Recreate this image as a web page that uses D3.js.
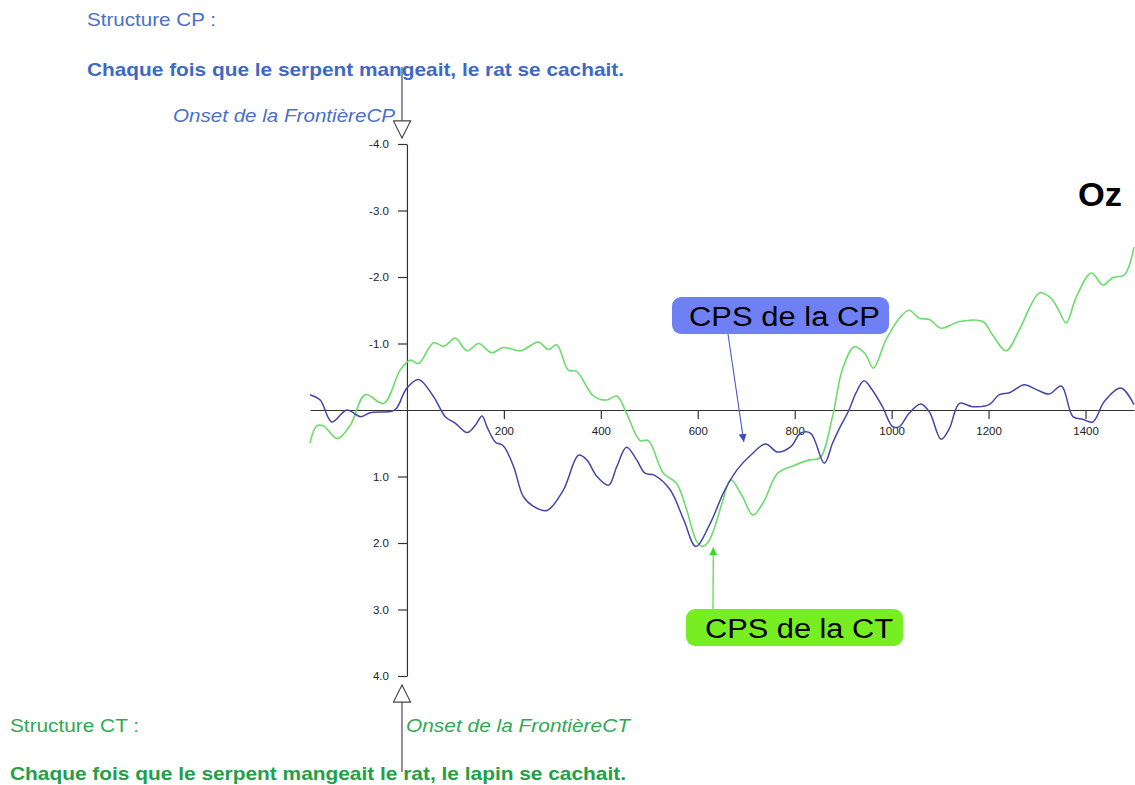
<!DOCTYPE html>
<html>
<head>
<meta charset="utf-8">
<script src="https://cdn.jsdelivr.net/npm/d3@7"></script>
<style>
  html, body { margin: 0; padding: 0; background: #fff; }
  svg { display: block; font-family: "Liberation Sans", Arial, sans-serif; }
</style>
</head>
<body>
<svg id="chart" width="1135" height="785"></svg>
<script>
// ---- data (time in ms, amplitude in µV; negative plotted upward) ----
const ctTime = [-200,-186,-172,-144,-117,-86,-48,-14,7,24,55,76,100,124,148,175,199,234,271,292,309,333,350,385,412,433,453,481,498,529,556,577,598,610,622,633,651,668,692,714,736,765,800,830,852,878,898,923,945,962,988,1016,1036,1057,1078,1102,1140,1188,1208,1236,1263,1291,1305,1329,1346,1360,1381,1412,1436,1456,1480,1500];
const ctValues = [0.50,0.24,0.24,0.43,0.23,-0.23,-0.10,-0.60,-0.75,-0.70,-1.01,-0.96,-1.08,-0.89,-1.00,-0.86,-0.94,-0.89,-1.02,-0.91,-0.98,-0.60,-0.58,-0.21,-0.15,-0.21,0.05,0.46,0.46,0.95,1.10,1.50,1.98,2.05,1.98,1.80,1.38,1.05,1.30,1.58,1.38,0.95,0.83,0.75,0.72,0.10,-0.60,-0.95,-0.85,-0.63,-1.05,-1.38,-1.50,-1.38,-1.36,-1.23,-1.33,-1.33,-1.13,-0.89,-1.20,-1.63,-1.76,-1.68,-1.48,-1.31,-1.70,-2.06,-1.88,-1.99,-2.03,-2.45];

const cpTime = [-200,-179,-155,-124,-96,-76,-31,-21,0,24,55,79,100,124,141,155,165,182,199,220,240,261,289,323,354,371,392,416,433,453,474,491,510,543,571,596,626,654,681,709,740,764,792,812,833,861,878,892,912,926,943,960,981,1002,1016,1036,1060,1078,1102,1119,1140,1167,1201,1222,1243,1274,1298,1325,1350,1374,1394,1415,1439,1473,1500];
const cpValues = [-0.23,-0.15,0.18,0.00,0.10,0.04,0.02,-0.03,-0.33,-0.46,-0.20,0.10,0.20,0.34,0.23,0.09,0.25,0.48,0.54,0.85,1.30,1.45,1.51,1.20,0.68,0.75,1.00,1.13,0.85,0.56,0.75,0.95,0.98,1.20,1.65,2.05,1.70,1.23,0.90,0.68,0.51,0.63,0.55,0.35,0.35,0.80,0.50,0.28,0.00,-0.25,-0.44,-0.30,-0.05,0.25,0.25,0.05,-0.09,0.03,0.44,0.28,-0.10,-0.05,-0.08,-0.23,-0.26,-0.38,-0.31,-0.24,-0.36,0.10,0.14,0.18,-0.13,-0.33,-0.08];

const xTicks = [200, 400, 600, 800, 1000, 1200, 1400];
const yTicks = [-4, -3, -2, -1, 1, 2, 3, 4];

const electrode = "Oz";
const cpTitle = "Structure CP :";
const cpSentence = "Chaque fois que le serpent mangeait, le rat se cachait.";
const cpOnset = "Onset de la FrontièreCP";
const ctTitle = "Structure CT :";
const ctSentence = "Chaque fois que le serpent mangeait le rat, le lapin se cachait.";
const ctOnset = "Onset de la FrontièreCT";
const cpLabel = "CPS de la CP";
const ctLabel = "CPS de la CT";
// annotation anchors (time, value)
const cpArrowTarget = [695, 0.48];
const ctArrowTarget = [632, 2.05];

// ---- drawing ----
const svg = d3.select("#chart");
const x = d3.scaleLinear().domain([-200, 1500]).range([310, 1134]);
const y = d3.scaleLinear().domain([-4, 4]).range([144, 676]);

const blueText = "#4a70c8";
const blueBold = "#3d69c6";
const greenText = "#2faa52";
const greenBold = "#21a046";

function styleAxis(g) {
  g.select(".domain").attr("stroke", "#333").attr("stroke-width", 1.2);
  g.selectAll(".tick line").attr("stroke", "#333").attr("stroke-width", 1.2);
  g.selectAll(".tick text").attr("fill", "#222").style("font-size", "11.5px")
    .style("font-family", "Liberation Sans, Arial, sans-serif");
}

// y axis
svg.append("g")
  .attr("transform", `translate(${x(0)},0)`)
  .call(d3.axisLeft(y).tickValues(yTicks).tickFormat(d => d.toFixed(1)).tickSize(9).tickSizeOuter(0).tickPadding(9))
  .call(styleAxis);

// x axis at zero
svg.append("g")
  .attr("transform", `translate(0,${y(0)})`)
  .call(d3.axisBottom(x).tickValues(xTicks).tickFormat(d => String(d)).tickSize(9).tickSizeOuter(0).tickPadding(8))
  .call(styleAxis);

// curves
const line = d3.line().x(d => x(d[0])).y(d => y(d[1])).curve(d3.curveCatmullRom.alpha(0.5));
svg.append("path")
  .datum(ctTime.map((t, i) => [t, ctValues[i]]))
  .attr("d", line).attr("fill", "none").attr("stroke", "#6cdc6c").attr("stroke-width", 1.6);
svg.append("path")
  .datum(cpTime.map((t, i) => [t, cpValues[i]]))
  .attr("d", line).attr("fill", "none").attr("stroke", "#4646a8").attr("stroke-width", 1.5);

// defs: arrowheads
const defs = svg.append("defs");
defs.append("marker").attr("id", "hollow").attr("viewBox", "0 0 20 20")
  .attr("refX", 19).attr("refY", 10).attr("markerWidth", 19).attr("markerHeight", 19)
  .attr("markerUnits", "userSpaceOnUse").attr("orient", "auto")
  .append("path").attr("d", "M1,1 L19,10 L1,19 Z").attr("fill", "#fff").attr("stroke", "#444").attr("stroke-width", 1.2);
defs.append("marker").attr("id", "blueHead").attr("viewBox", "0 0 10 10")
  .attr("refX", 10).attr("refY", 5).attr("markerWidth", 8).attr("markerHeight", 8)
  .attr("markerUnits", "userSpaceOnUse").attr("orient", "auto")
  .append("path").attr("d", "M0,0 L10,5 L0,10 Z").attr("fill", "#3a4cc0");
defs.append("marker").attr("id", "greenHead").attr("viewBox", "0 0 10 10")
  .attr("refX", 10).attr("refY", 5).attr("markerWidth", 8).attr("markerHeight", 8)
  .attr("markerUnits", "userSpaceOnUse").attr("orient", "auto")
  .append("path").attr("d", "M0,0 L10,5 L0,10 Z").attr("fill", "#33dd22");

function addText(t, xPos, yPos, color, size, len, opts = {}) {
  const el = svg.append("text").attr("x", xPos).attr("y", yPos).attr("fill", color)
    .style("font-size", size + "px").text(t);
  if (opts.bold) el.style("font-weight", "bold");
  if (opts.italic) el.style("font-style", "italic");
  if (opts.anchor) el.attr("text-anchor", opts.anchor);
  if (len) el.attr("textLength", len).attr("lengthAdjust", "spacingAndGlyphs");
  return el;
}

// top texts
addText(cpTitle, 87, 26, blueText, 19, 129);
addText(cpSentence, 87, 76, blueBold, 19, 537, { bold: true });
addText(cpOnset, 173, 122, blueText, 19, 222, { italic: true });

// bottom texts
addText(ctTitle, 10, 732, greenText, 19, 129);
addText(ctOnset, 406, 732, greenText, 19, 224, { italic: true });
addText(ctSentence, 10, 780, greenBold, 19, 616, { bold: true });

// onset arrows
svg.append("line").attr("x1", 402).attr("y1", 67).attr("x2", 402).attr("y2", 138)
  .attr("stroke", "#555570").attr("stroke-width", 1.3).attr("marker-end", "url(#hollow)");
svg.append("line").attr("x1", 402).attr("y1", 772).attr("x2", 402).attr("y2", 685)
  .attr("stroke", "#555570").attr("stroke-width", 1.3).attr("marker-end", "url(#hollow)");

// electrode label
addText(electrode, 1078, 206, "#000", 34, 44, { bold: true });

// CP annotation
svg.append("line").attr("x1", 728).attr("y1", 334).attr("x2", x(cpArrowTarget[0])).attr("y2", y(cpArrowTarget[1]))
  .attr("stroke", "#4a5cc8").attr("stroke-width", 1.1).attr("marker-end", "url(#blueHead)");
svg.append("rect").attr("x", 672).attr("y", 297).attr("width", 217).attr("height", 37).attr("rx", 9)
  .attr("fill", "#6f80f4");
addText(cpLabel, 689, 326, "#000", 27, 191);

// CT annotation
svg.append("line").attr("x1", 713).attr("y1", 609).attr("x2", x(ctArrowTarget[0])).attr("y2", y(ctArrowTarget[1]) + 1)
  .attr("stroke", "#33dd22").attr("stroke-width", 1.1).attr("marker-end", "url(#greenHead)");
svg.append("rect").attr("x", 686).attr("y", 609).attr("width", 217).attr("height", 37).attr("rx", 9)
  .attr("fill", "#77ee22");
addText(ctLabel, 705, 638, "#000", 27, 188);
</script>
</body>
</html>
